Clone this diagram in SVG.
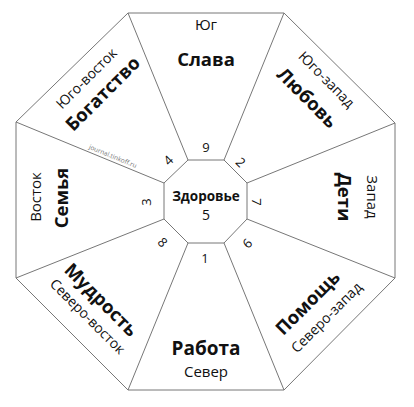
<svg xmlns="http://www.w3.org/2000/svg" width="414" height="407" viewBox="0 0 414 407">
<style>
text{font-family:"Open Sans","Noto Sans","Liberation Sans",sans-serif;fill:#111;text-anchor:middle;dominant-baseline:central}
.b{font-weight:bold;font-size:18.5px}
.r{font-size:14px}
.n{font-size:13px}
.s{font-size:6.5px;fill:#777}
.ln{stroke:#777;stroke-width:1;fill:none}
</style>
<rect width="414" height="407" fill="#fff"/>
<g id="connectors">
<polygon class="ln" points="128,13 284,13 395,123 395,278 284,390 128,390 16,278 16,122"/>
<line class="ln" x1="188" y1="160" x2="128" y2="13"/>
<line class="ln" x1="224" y1="160" x2="284" y2="13"/>
<line class="ln" x1="247" y1="183" x2="395" y2="123"/>
<line class="ln" x1="247" y1="219" x2="395" y2="278"/>
<line class="ln" x1="224" y1="243" x2="284" y2="390"/>
<line class="ln" x1="188" y1="243" x2="128" y2="390"/>
<line class="ln" x1="164" y1="219" x2="16" y2="278"/>
<line class="ln" x1="164" y1="183" x2="16" y2="122"/>
</g>
<g id="center">
<polygon class="ln" points="188,160 224,160 247,183 247,219 224,243 188,243 164,219 164,183"/>
<text class="b" x="206" y="196" style="font-size:13.5px">Здоровье</text>
<text class="r" x="206" y="214">5</text>
</g>
<g id="south">
<text class="r" x="206" y="24" style="font-size:15px">Юг</text>
<text class="b" x="206" y="58">Слава</text>
<text class="n" x="206" y="147">9</text>
</g>
<g id="southwest">
<text class="r" transform="translate(327,79) rotate(45)">Юго-запад</text>
<text class="b" transform="translate(308,97) rotate(45)">Любовь</text>
<text class="n" transform="translate(241,162) rotate(45)">2</text>
</g>
<g id="west">
<text class="r" transform="translate(373,197) rotate(90)" style="font-size:15px">Запад</text>
<text class="b" transform="translate(345,197) rotate(90)">Дети</text>
<text class="n" transform="translate(257,202) rotate(90)">7</text>
</g>
<g id="northwest">
<text class="b" transform="translate(307,302) rotate(-45)">Помощь</text>
<text class="r" transform="translate(326,317) rotate(-45)">Северо-запад</text>
<text class="n" transform="translate(247,243) rotate(-45)">6</text>
</g>
<g id="north">
<text class="n" x="205" y="258">1</text>
<text class="b" x="206" y="348" style="font-size:19px">Работа</text>
<text class="r" x="206" y="371" style="font-size:15px">Север</text>
</g>
<g id="northeast">
<text class="b" transform="translate(102,299) rotate(45)">Мудрость</text>
<text class="r" transform="translate(88,316) rotate(45)">Северо-восток</text>
<text class="n" transform="translate(163,242) rotate(45)">8</text>
</g>
<g id="east">
<text class="r" transform="translate(35,197) rotate(-90)" style="font-size:15px">Восток</text>
<text class="b" transform="translate(60,198) rotate(-90)">Семья</text>
<text class="n" transform="translate(146,202) rotate(-90)">3</text>
</g>
<g id="southeast">
<text class="r" transform="translate(86,78) rotate(-45)">Юго-восток</text>
<text class="b" transform="translate(102,93) rotate(-45)">Богатство</text>
<text class="n" transform="translate(168,160) rotate(-45)">4</text>
<text class="s" transform="translate(113,156) rotate(22.4)">journal.tinkoff.ru</text>
</g>
</svg>
